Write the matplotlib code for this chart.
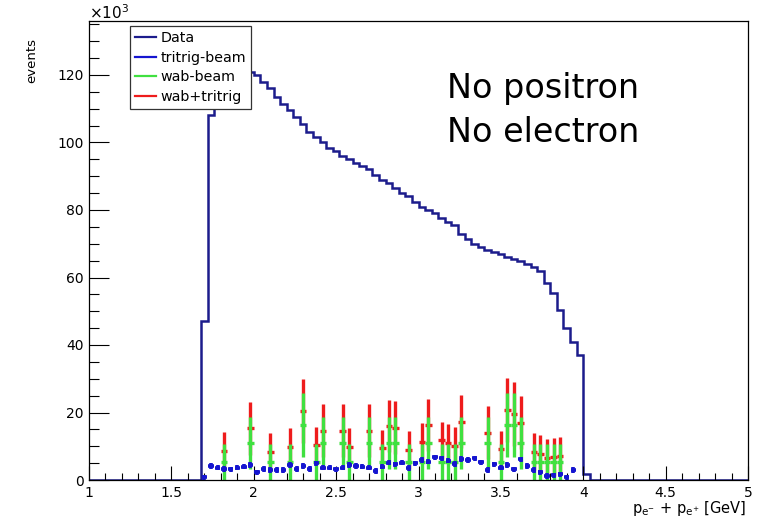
import numpy as np
import matplotlib.pyplot as plt
from matplotlib.ticker import MultipleLocator, FuncFormatter
from matplotlib.lines import Line2D

plt.rcParams['font.family'] = 'DejaVu Sans'
plt.rcParams['mathtext.default'] = 'regular'

# binning: 100 bins of 0.04 GeV from 1 to 5
bin_width = 0.04
edges = np.round(np.arange(1.0, 5.0 + 1e-9, bin_width), 2)

# Data histogram [x10^3 events], bins 1.68 ... 4.00 (lower edges)
data_first_bin = 1.68
data_k = [47, 108, 112, 116, 118, 120, 121, 121,
          120, 118, 116, 113.5, 111.5, 109.5, 107.5, 105.5, 103, 101.5,
          100, 98.5, 97.5, 96, 95, 94, 93, 92, 90.5, 89,
          88, 86.5, 85, 84, 82.5, 81, 80, 79, 77.5, 76.5,
          75.5, 73, 71.5, 70, 69, 68, 67.5, 67, 66, 65.5,
          64.8, 64, 63, 62, 58.5, 55.5, 50.5, 45, 41, 37,
          1.8]

# tritrig-beam, one point per bin, first bin centre 1.70
tritrig_first = 1.70
tritrig_k = [0.8, 4.1, 3.7, 3.3, 3.2, 3.7, 4.0, 4.4, 2.3, 3.3,
             3.0, 3.0, 3.0, 4.4, 3.3, 4.2, 3.3, 4.9, 3.7, 3.7,
             3.2, 3.7, 4.4, 4.2, 4.0, 3.7, 2.7, 4.0, 5.1, 4.6,
             5.1, 3.5, 4.9, 5.9, 5.4, 6.7, 6.4, 5.7, 4.7, 6.2,
             5.9, 6.4, 5.2, 3.0, 4.6, 3.7, 4.4, 3.2, 6.1, 4.2,
             3.0, 2.3, 1.2, 1.4, 1.7, 0.8, 3.0]

# wab-beam and wab+tritrig, only in filled bins
wab_x = [1.82, 1.98, 2.10, 2.22, 2.30, 2.38, 2.42, 2.54, 2.58, 2.70,
         2.78, 2.82, 2.86, 2.94, 3.02, 3.06, 3.14, 3.18, 3.22, 3.26,
         3.42, 3.50, 3.54, 3.58, 3.62, 3.70, 3.74, 3.78, 3.82, 3.86]
wab_k = [5.4, 10.9, 5.4, 5.4, 16.3, 5.4, 10.9, 10.9, 5.4, 10.9,
         5.4, 10.9, 10.9, 5.4, 5.4, 10.9, 5.4, 5.4, 5.4, 10.9,
         10.9, 5.4, 16.3, 16.3, 10.9, 5.4, 5.4, 5.4, 5.4, 5.4]
wab_err = [5.4, 7.7, 5.4, 5.4, 9.4, 5.4, 7.7, 7.7, 5.4, 7.7,
           5.4, 7.7, 7.7, 5.4, 5.4, 7.7, 5.4, 5.4, 5.4, 7.7,
           7.7, 5.4, 9.4, 9.4, 7.7, 5.4, 5.4, 5.4, 5.4, 5.4]
sum_k = [8.7, 15.3, 8.4, 9.8, 20.5, 10.3, 14.6, 14.6, 9.8, 14.6,
         9.4, 16.0, 15.5, 8.9, 11.3, 16.3, 11.8, 11.1, 10.1, 17.3,
         14.0, 9.1, 20.7, 19.5, 17.0, 8.4, 7.7, 6.6, 6.8, 7.1]
sum_err = [5.5, 7.8, 5.5, 5.5, 9.5, 5.5, 7.8, 7.8, 5.5, 7.8,
           5.5, 7.8, 7.8, 5.5, 5.5, 7.8, 5.5, 5.5, 5.5, 7.8,
           7.8, 5.5, 9.5, 9.5, 7.8, 5.5, 5.5, 5.5, 5.5, 5.5]

navy = '#1c1c8c'
blue = '#1515d0'
green = '#40e040'
red = '#ee1c1c'

# full histogram array
hist = np.zeros(len(edges) - 1)
i0 = int(round((data_first_bin - 1.0) / bin_width))
hist[i0:i0 + len(data_k)] = data_k

tritrig_x = tritrig_first + bin_width * np.arange(len(tritrig_k))

fig = plt.figure(figsize=(7.57, 5.25), dpi=100)
ax = fig.add_axes([89/757, 45/525, 659/757, 459/525])

ax.stairs(hist, edges, color=navy, lw=1.8)
ax.errorbar(wab_x, sum_k, xerr=bin_width/2, yerr=sum_err, fmt='none',
            ecolor=red, elinewidth=2.4)
ax.errorbar(wab_x, wab_k, xerr=bin_width/2, yerr=wab_err, fmt='none',
            ecolor=green, elinewidth=2.4)
ax.errorbar(tritrig_x, tritrig_k, xerr=0.016, yerr=0.8, fmt='none',
            ecolor=blue, elinewidth=2.6)

ax.set_xlim(1, 5)
ax.set_ylim(0, 136)
ax.xaxis.set_major_locator(MultipleLocator(0.5))
ax.xaxis.set_minor_locator(MultipleLocator(0.1))
ax.yaxis.set_major_locator(MultipleLocator(20))
ax.yaxis.set_minor_locator(MultipleLocator(5))
ax.xaxis.set_major_formatter(FuncFormatter(lambda v, p: '%g' % v))
ax.tick_params(which='both', direction='in', top=False, right=False,
               labelsize=10, width=0.8)
ax.tick_params(axis='y', which='major', length=14.4, pad=4)
ax.tick_params(axis='y', which='minor', length=7.2)
ax.tick_params(axis='x', which='major', length=10, pad=4)
ax.tick_params(axis='x', which='minor', length=5)
for s in ax.spines.values():
    s.set_linewidth(0.9)

# axis titles, ROOT style
fig.text(32/757, 1 - 38/525, 'events', rotation=90, ha='center', va='top',
         fontsize=9.5)
fig.text(746/757, 1 - 513/525, r'p$_{e^{-}}$ + p$_{e^{+}}$ [GeV]',
         ha='right', va='baseline', fontsize=10.5)
fig.text(89/757, 1 - 19/525, r'$\times$10$^{3}$', ha='left', va='baseline',
         fontsize=11)

fig.text(447/757, 1 - 98/525, 'No positron', ha='left', va='baseline',
         fontsize=24)
fig.text(447/757, 1 - 142/525, 'No electron', ha='left', va='baseline',
         fontsize=24)

handles = [Line2D([], [], color=navy, lw=1.6),
           Line2D([], [], color=blue, lw=1.6),
           Line2D([], [], color=green, lw=1.6),
           Line2D([], [], color=red, lw=1.6)]
labels = ['Data', 'tritrig-beam', 'wab-beam', 'wab+tritrig']
leg = ax.legend(handles, labels, loc='upper left',
                bbox_to_anchor=(130/757, 1 - 26/525),
                bbox_transform=fig.transFigure, borderaxespad=0,
                fontsize=10.3, handlelength=1.5, handletextpad=0.3,
                labelspacing=0.4, borderpad=0.35, fancybox=False,
                framealpha=1, edgecolor='#333333')
leg.get_frame().set_linewidth(0.9)

fig.savefig('out.png', dpi=100)
